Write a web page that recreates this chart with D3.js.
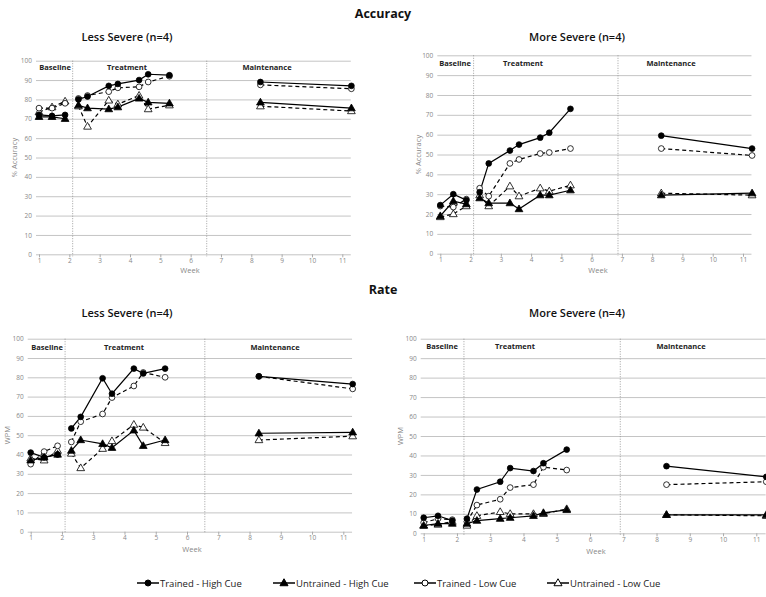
<!DOCTYPE html>
<html>
<head>
<meta charset="utf-8">
<script src="https://cdn.jsdelivr.net/npm/d3@7"></script>
<style>
  body { margin: 0; background: #fff; }
  svg { display: block; font-family: "Open Sans", "Noto Sans", sans-serif; }
</style>
</head>
<body>
<svg id="chart" width="766" height="597"></svg>
<script>
// session weeks, shared by all panels
const weeks = [1, 1.43, 1.86, 2.3, 2.6, 3.3, 3.6, 4.3, 4.6, 5.3, 8.3, 11.3]
const phaseOf = [0, 0, 0, 1, 1, 1, 1, 1, 1, 1, 2, 2]
const phaseNames = ['Baseline', 'Treatment', 'Maintenance']
const seriesNames = ['Trained - High Cue', 'Untrained - High Cue', 'Trained - Low Cue', 'Untrained - Low Cue']
const xTicks = [1, 2, 3, 4, 5, 6, 7, 8, 9, 10, 11]
const yTicks = [0, 10, 20, 30, 40, 50, 60, 70, 80, 90, 100]

// order: trained high, untrained high, trained low, untrained low
const accLess = [
  [72, 71.5, 72, 80, 81.5, 87, 88, 90, 93, 92.5, 89, 87],
  [71, 71, 70, 77, 75.5, 75, 76, 80.5, 78.5, 78, 78.5, 75.5],
  [75.5, 75.5, 78, 80.5, 82, 84, 86, 86.5, 89, 92, 87.5, 85.5],
  [73.5, 76, 79, 76.5, 66, 79.5, 77.5, 82, 75, 77, 76.5, 74]
]
const accMore = [
  [24.5, 30, 27, 31, 45.5, 52, 55, 58.5, 61, 73, 59.5, 53],
  [19, 26.5, 25, 28, 25.5, 25.5, 22.5, 29.5, 29.5, 32, 29.5, 30.5],
  [24, 23.5, 27.5, 33, 29, 45.5, 47.5, 50.5, 51, 53, 53, 49.5],
  [18.5, 20, 24, 29.5, 24, 34, 29, 33, 31.5, 34.5, 30.5, 29.5]
]
const rateLess = [
  [41, 38.5, 40, 53.5, 59.5, 79.5, 71.5, 84.5, 82, 84.5, 80.5, 76.5],
  [37, 38.5, 40, 42, 47.5, 45.5, 43.5, 52.5, 44.5, 47.5, 51, 51.5],
  [35, 41.5, 44.5, 46.5, 57, 61, 69.5, 75.5, 82.5, 80, 80.5, 74],
  [38, 37, 42, 40.5, 33, 43, 47, 55.5, 54, 46, 47.5, 49.5]
]
const rateMore = [
  [8, 9, 6.5, 7.5, 22.5, 26.5, 33.5, 32, 36, 43, 34.5, 29],
  [4, 5, 5, 5, 6.5, 7.5, 8, 9, 10.5, 12, 9.5, 9.5],
  [5.5, 7.5, 7, 6, 14.5, 17.5, 23.5, 25, 34, 32.5, 25, 26.5],
  [4, 4.5, 6, 4, 9, 11, 10, 10, 10, 12.5, 9.5, 9]
]
// where the dotted phase change lines sit (week)
const phaseLinesAccLess = [2.11, 6.53]
const phaseLinesAccMore = [2.1, 6.87]
const phaseLinesRateLess = [2.1, 6.57]
const phaseLinesRateMore = [2.21, 6.91]

const svg = d3.select('#chart')

// layout only
const panels = [
  { data: accLess, lines: phaseLinesAccLess, yLabel: '% Accuracy', x0: 39, wk: 30.33, yTop: 60.7, yBot: 254.3, labY: 70, labX: [55, 127, 267], yLabX: 17, weekX: 190, weekY: 273 },
  { data: accMore, lines: phaseLinesAccMore, yLabel: '% Accuracy', x0: 440.3, wk: 30.27, yTop: 55.3, yBot: 253.7, labY: 66, labX: [455, 523, 671], yLabX: 421, weekX: 598, weekY: 273 },
  { data: rateLess, lines: phaseLinesRateLess, yLabel: 'WPM', x0: 30.7, wk: 31.26, yTop: 338.7, yBot: 531.7, labY: 350, labX: [47, 124, 275], yLabX: 10, weekX: 192, weekY: 552 },
  { data: rateMore, lines: phaseLinesRateMore, yLabel: 'WPM', x0: 423.7, wk: 33.26, yTop: 338.7, yBot: 533.3, labY: 349, labX: [442, 515, 681], yLabX: 403, weekX: 596, weekY: 554 }
]

const solid = [true, true, false, false]
const filled = [true, true, false, false]
const tri = [false, true, false, true]

panels.forEach(drawPanel)

function drawPanel(p) {
  const x = d3.scaleLinear().domain([1, 11.28]).range([p.x0, p.x0 + 10.28 * p.wk])
  const y = d3.scaleLinear().domain([0, 100]).range([p.yBot, p.yTop])
  const g = svg.append('g')

  // grid + y axis
  const ya = g.append('g').attr('transform', `translate(${x(1)},0)`)
    .call(d3.axisLeft(y).tickValues(yTicks).tickSize(-(x(11.28) - x(1))).tickSizeOuter(0))
  ya.select('.domain').remove()
  ya.selectAll('.tick line').attr('stroke', '#c4c4c4').attr('stroke-width', 1).attr('x1', -3)
  ya.selectAll('.tick text').attr('x', -7).attr('fill', '#888').style('font-size', '6.5px').style('font-family', 'Open Sans')

  // x axis
  const xa = g.append('g').attr('transform', `translate(0,${y(0)})`)
    .call(d3.axisBottom(x).tickValues(xTicks).tickSize(3).tickSizeOuter(0))
  xa.select('.domain').remove()
  xa.selectAll('.tick line').attr('stroke', '#aaa')
  xa.selectAll('.tick text').attr('y', 4).attr('fill', '#888').style('font-size', '6.5px').style('font-family', 'Open Sans')

  // phase dividers
  p.lines.forEach(w => {
    g.append('line').attr('x1', x(w)).attr('x2', x(w)).attr('y1', y(100)).attr('y2', y(0) + 2)
      .attr('stroke', '#888').attr('stroke-width', 0.8).attr('stroke-dasharray', '1,1.5')
  })

  phaseNames.forEach((n, i) => {
    g.append('text').attr('x', p.labX[i]).attr('y', p.labY).attr('text-anchor', 'middle')
      .style('font-size', '7.5px').style('font-weight', 'bold').attr('fill', '#222').text(n)
  })

  g.append('text').attr('transform', `translate(${p.yLabX},${(y(0) + y(100)) / 2}) rotate(-90)`)
    .attr('text-anchor', 'middle').attr('fill', '#888').style('font-size', '7.5px').text(p.yLabel)
  g.append('text').attr('x', p.weekX).attr('y', p.weekY).attr('text-anchor', 'middle')
    .attr('fill', '#888').style('font-size', '7.5px').text('Week')

  const line = d3.line().x(d => x(d.w)).y(d => y(d.v))

  // lines first, markers on top; draw low cue then high cue
  const order = [3, 2, 1, 0]
  order.forEach(s => {
    const pts = p.data[s].map((v, i) => ({ w: weeks[i], v: v, ph: phaseOf[i] }))
    d3.range(3).forEach(ph => {
      g.append('path').datum(pts.filter(d => d.ph === ph)).attr('d', line)
        .attr('fill', 'none').attr('stroke', '#000').attr('stroke-width', 1.2)
        .attr('stroke-dasharray', solid[s] ? null : '4,3')
    })
  })
  order.forEach(s => {
    const pts = p.data[s].map((v, i) => ({ w: weeks[i], v: v }))
    const sym = d3.symbol().type(tri[s] ? d3.symbolTriangle : d3.symbolCircle).size(tri[s] ? 26 : 26)
    g.selectAll(null).data(pts).join('path')
      .attr('transform', d => `translate(${x(d.w)},${y(d.v) + (tri[s] ? 0.4 : 0)})`)
      .attr('d', sym)
      .attr('fill', filled[s] ? '#000' : '#fff').attr('stroke', '#000').attr('stroke-width', 0.8)
  })
}

// titles
function title(t, xx, yy, size, weight) {
  svg.append('text').attr('x', xx).attr('y', yy).attr('text-anchor', 'middle')
    .style('font-size', size + 'px').style('font-weight', weight).attr('fill', '#111').text(t)
}
title('Accuracy', 383, 18, 12.5, 'bold')
title('Less Severe (n=4)', 127, 41, 11, 600)
title('More Severe (n=4)', 577, 41, 11, 600)
title('Rate', 383, 294, 12.5, 'bold')
title('Less Severe (n=4)', 127, 317, 11, 600)
title('More Severe (n=4)', 577, 317, 11, 600)

// legend
const legX = [148, 284, 425, 558]
const leg = svg.append('g')
seriesNames.forEach((n, s) => {
  const cx = legX[s]
  leg.append('line').attr('x1', cx - 11).attr('x2', cx + 11).attr('y1', 583).attr('y2', 583)
    .attr('stroke', '#000').attr('stroke-width', 1.5)
  leg.append('path').attr('transform', `translate(${cx},${583 + (tri[s] ? 0.4 : 0)})`)
    .attr('d', d3.symbol().type(tri[s] ? d3.symbolTriangle : d3.symbolCircle).size(28))
    .attr('fill', filled[s] ? '#000' : '#fff').attr('stroke', '#000').attr('stroke-width', 1)
  leg.append('text').attr('x', cx + 12).attr('y', 586.5).style('font-size', '9.5px').attr('fill', '#222').text(n)
})
</script>
</body>
</html>
